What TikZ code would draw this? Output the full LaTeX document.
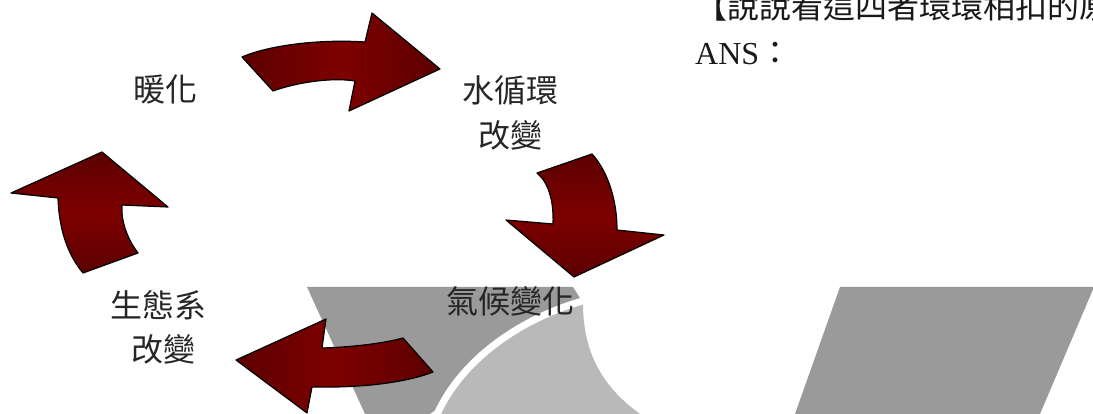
\documentclass[tikz,border=0pt]{standalone}
\usepackage{fontspec}
\setmainfont{Liberation Serif}
\newfontfamily\cjk{Noto Sans CJK TC}
\definecolor{arrowmid}{RGB}{126,0,0}
\definecolor{arrowdark}{RGB}{92,0,0}
\definecolor{bgdark}{RGB}{154,154,154}
\definecolor{bglight}{RGB}{185,185,185}
\begin{document}
\begin{tikzpicture}[x=1pt,y=-1pt,
  blockarrow/.style={draw=black, line width=1.2pt, line join=round},
  harrow/.style={blockarrow, left color=arrowdark, right color=arrowdark, middle color=arrowmid},
  varrow/.style={blockarrow, top color=arrowdark, bottom color=arrowdark, middle color=arrowmid},
  lbl/.style={font=\cjk\fontsize{32}{32}\selectfont, inner sep=0pt, text=black!85},
  para/.style={font=\fontsize{32}{32}\selectfont, inner sep=0pt, anchor=base west, text=black!90}]
\useasboundingbox (0,0) rectangle (1093,414);
\clip (0,0) rectangle (1093,414);
% background shapes
\fill[bgdark] (307,287) -- (573,287) -- (583,303) -- (430,414) -- (365,414) -- cycle;
\fill[bglight] (437,414) .. controls (460,360) and (520,318) .. (583,303)
   .. controls (583,350) and (600,385) .. (640,414) -- cycle;
\draw[white, line width=7pt] (433,424) .. controls (456,362) and (520,318) .. (586,300);
\fill[bgdark] (840,287) -- (1094,287) -- (1040,414) -- (795,414) -- cycle;
% labels
\node[lbl] (nuanhua) at (165,89) {暖化};
\node[lbl] (shuixun) at (510,90) {水循環};
\node[lbl] (shuigai) at (510,135) {改變};
\node[lbl] (qihou) at (510,301) {氣候變化};
\node[lbl] (shengtai) at (158,305) {生態系};
\node[lbl] (shenggai) at (163,349) {改變};
\node[para] (question) at (695,19) {\cjk 【說說看這四者環環相扣的原};
\node[para] (ans) at (695,65) {ANS{\cjk ：}};
% arrows
\path[harrow] (242,57) -- (273,91) .. controls (295,83) and (330,77) .. (355,81)
  -- (349,111) -- (440,69) -- (372,13) -- (365,42)
  .. controls (320,39) and (270,45) .. (242,57) -- cycle;
\path[varrow] (537,173) -- (592,154) .. controls (605,168) and (617,195) .. (617,230)
  -- (664,235) -- (574,277) -- (506,220) -- (553,224)
  .. controls (554,200) and (548,182) .. (537,173) -- cycle;
\path[harrow] (403,338) -- (433,372) .. controls (405,383) and (360,388) .. (312,387)
  -- (307,413) -- (236,360) -- (326,319) -- (322,348)
  .. controls (355,347) and (385,343) .. (403,338) -- cycle;
\path[varrow] (83,273) -- (138,253) .. controls (126,237) and (121,220) .. (122,205)
  -- (168,207) -- (102,152) -- (11,193) -- (58,198)
  .. controls (59,230) and (68,255) .. (83,273) -- cycle;
\end{tikzpicture}
\end{document}
